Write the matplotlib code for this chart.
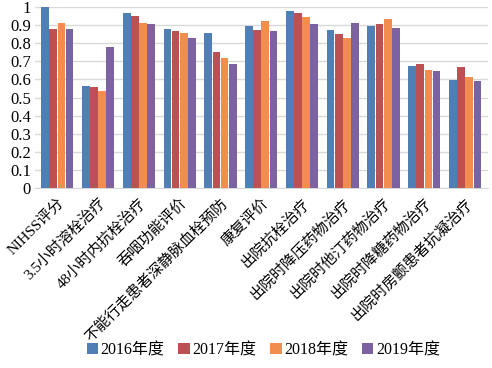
import matplotlib
matplotlib.use("Agg")
import matplotlib.pyplot as plt
import numpy as np

plt.rcParams['font.family'] = ['Liberation Serif', 'Noto Sans CJK SC', 'DejaVu Sans']

categories = ["NIHSS评分", "3.5小时溶栓治疗", "48小时内抗栓治疗", "吞咽功能评价",
              "不能行走患者深静脉血栓预防", "康复评价", "出院抗栓治疗", "出院时降压药物治疗",
              "出院时他汀药物治疗", "出院时降糖药物治疗", "出院时房颤患者抗凝治疗"]
series_names = ["2016年度", "2017年度", "2018年度", "2019年度"]
v2016 = [1.00, 0.566, 0.967, 0.878, 0.858, 0.895, 0.980, 0.874, 0.895, 0.675, 0.597]
v2017 = [0.878, 0.560, 0.952, 0.869, 0.752, 0.872, 0.970, 0.852, 0.908, 0.686, 0.671]
v2018 = [0.911, 0.534, 0.911, 0.856, 0.721, 0.922, 0.946, 0.830, 0.933, 0.654, 0.612]
v2019 = [0.878, 0.778, 0.906, 0.830, 0.684, 0.869, 0.908, 0.913, 0.885, 0.645, 0.593]
yticks = [0, 0.1, 0.2, 0.3, 0.4, 0.5, 0.6, 0.7, 0.8, 0.9, 1]
ytick_labels = ["0", "0.1", "0.2", "0.3", "0.4", "0.5", "0.6", "0.7", "0.8", "0.9", "1"]
colors = ["#4f7fb5", "#bb5152", "#f08d4f", "#7c62a0"]

fig = plt.figure(figsize=(4.92, 3.68), dpi=100)
ax = fig.add_axes([0.071, 0.49, 0.92, 0.49])

x = np.arange(len(categories))
w = 0.2
for i, (vals, c, n) in enumerate(zip([v2016, v2017, v2018, v2019], colors, series_names)):
    ax.bar(x + (i - 1.5) * w, vals, width=w * 0.95, color=c, label=n, zorder=3)

ax.set_ylim(0, 1.0)
ax.set_xlim(-0.55, len(categories) - 0.45)
ax.set_yticks(yticks)
ax.set_yticklabels(ytick_labels, fontsize=12)
ax.yaxis.grid(True, color="#d9d9d9", linewidth=1, zorder=0)
ax.set_axisbelow(True)
for s in ["top", "right", "left"]:
    ax.spines[s].set_visible(False)
ax.spines["bottom"].set_color("#d9d9d9")
ax.tick_params(axis="y", length=0, pad=3)
ax.tick_params(axis="x", length=0, pad=6)
ax.set_xticks(x)
ax.set_xticklabels(categories, rotation=45, ha="right", rotation_mode="anchor", fontsize=10.8)

handles, labels = ax.get_legend_handles_labels()
fig.legend(handles, labels, loc="lower center", bbox_to_anchor=(0.535, -0.012), ncol=4,
           frameon=False, fontsize=11.5, handlelength=0.7, handleheight=0.7,
           handletextpad=0.15, columnspacing=0.9)

fig.savefig("out.png", dpi=100)
